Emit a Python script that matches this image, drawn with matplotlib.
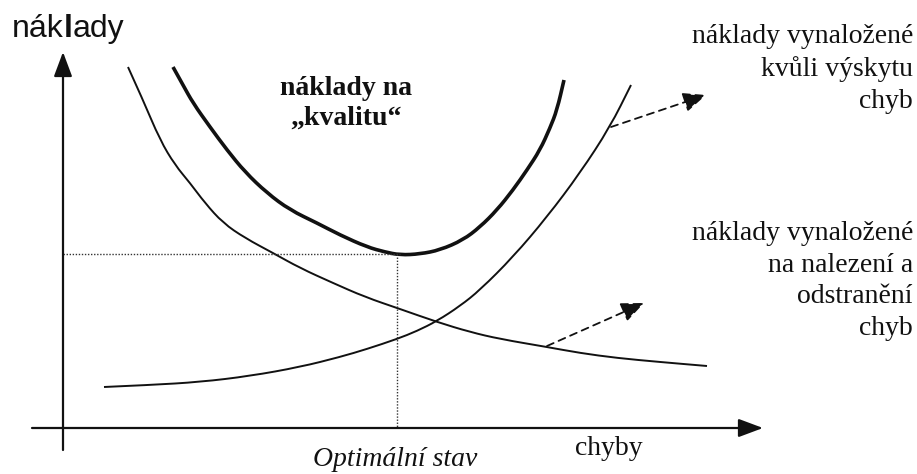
import matplotlib
matplotlib.use("Agg")
import matplotlib.pyplot as plt
from matplotlib.path import Path
from matplotlib.patches import PathPatch

# ---- data (chart units: x = chyby, y = náklady; origin at axis crossing) ----
fail_x = [41, 87, 137, 187, 237, 277, 304, 334, 354, 374, 397, 417, 450, 484, 517, 547, 568]
fail_y = [41, 43, 46, 52, 61, 71, 79, 89, 97, 107, 122, 138, 171, 211, 255, 301, 343]

find_x = [65, 80, 97, 112, 127, 142, 160, 182, 210, 237, 270, 302, 337, 374, 407, 437, 484, 517, 554, 597, 644]
find_y = [361, 328, 288, 263, 245, 225, 205, 190, 175, 160, 145, 131, 119, 106, 96, 89, 81, 75, 70, 66, 62]

qual_x = [110, 120, 130, 147, 164, 182, 204, 227, 254, 277, 304, 322, 337, 357, 377, 400, 417, 434, 450, 464, 477, 487, 494, 501]
qual_y = [361, 343, 325, 301, 278, 256, 235, 218, 205, 193, 181, 176, 173, 174, 178, 188, 201, 218, 238, 258, 278, 300, 318, 348]

opt_x, opt_y = 334, 174

label_y_axis = ["nák", "l", "ady"]
label_x_axis = "chyby"
label_opt = "Optimální stav"
label_quality = ["náklady na", "„kvalitu“"]
label_fail = ["náklady vynaložené", "kvůli výskytu", "chyb"]
label_find = ["náklady vynaložené", "na nalezení a", "odstranění", "chyb"]

# ---- figure ----
W, H = 917, 474
OX, OY = 63, 428  # pixel position of origin
fig = plt.figure(figsize=(W / 100, H / 100), dpi=100)
ax = fig.add_axes([0, 0, 1, 1])
ax.set_xlim(-OX, W - OX)
ax.set_ylim(-(H - OY), OY)
ax.axis("off")

def P(px, py):
    """pixel position -> chart coords (for layout only)"""
    return (px - OX, OY - py)

ink = "#111111"
serif = "Liberation Serif"
sans = "Liberation Sans"

def smooth_curve(xs, ys, lw):
    pts = list(zip(xs, ys))
    verts = [pts[0]]
    codes = [Path.MOVETO]
    for i in range(1, len(pts) - 1):
        mid = ((pts[i][0] + pts[i + 1][0]) / 2, (pts[i][1] + pts[i + 1][1]) / 2)
        verts += [pts[i], mid]
        codes += [Path.CURVE3, Path.CURVE3]
    verts.append(pts[-1])
    codes.append(Path.LINETO)
    ax.add_patch(PathPatch(Path(verts, codes), fill=False, edgecolor=ink, lw=lw,
                           capstyle="butt", joinstyle="round"))

# axes with arrows
ax.annotate("", xy=P(763, 428), xytext=P(32, 428),
            arrowprops=dict(arrowstyle="-|>,head_length=0.75,head_width=0.28",
                            color=ink, lw=1.6, mutation_scale=20, shrinkA=0, shrinkB=0))
ax.annotate("", xy=P(63, 52), xytext=P(63, 450),
            arrowprops=dict(arrowstyle="-|>,head_length=0.75,head_width=0.28",
                            color=ink, lw=1.6, mutation_scale=20, shrinkA=0, shrinkB=0))

# dotted optimum guides
ax.plot([0, opt_x + 3], [opt_y, opt_y], color="#333333", lw=1.0, ls=(0, (1, 1.2)))
ax.plot([opt_x, opt_x], [opt_y, 0], color="#333333", lw=1.0, ls=(0, (1, 1.2)))

# curves
smooth_curve(fail_x, fail_y, 1.4)
smooth_curve(find_x, find_y, 1.4)
smooth_curve(qual_x, qual_y, 2.6)

# dashed pointer arrows
for start, end in [((611, 127), (706, 95)), ((547, 346), (644, 303))]:
    ax.annotate("", xy=P(*end), xytext=P(*start),
                arrowprops=dict(arrowstyle="-|>,head_length=0.7,head_width=0.3",
                                color=ink, lw=1.3, ls=(0, (4, 3)),
                                mutation_scale=20, shrinkA=0, shrinkB=0))

# y-axis label with bold 'l'
t1 = ax.text(*P(12, 44), label_y_axis[0], fontsize=23, family=sans, color=ink,
             ha="left", va="bottom")
t2 = ax.annotate(label_y_axis[1], xy=(1, 0), xycoords=t1, fontsize=23, family=sans,
                 fontweight="bold", color=ink, ha="left", va="bottom")
t3 = ax.annotate(label_y_axis[2], xy=(1, 0), xycoords=t2, fontsize=23, family=sans,
                 color=ink, ha="left", va="bottom")

# quality label
for i, s in enumerate(label_quality):
    ax.text(*P(346, 95 + 30 * i), s, fontsize=20, family=serif, fontweight="bold",
            color=ink, ha="center", va="baseline")

# right labels
for i, s in enumerate(label_fail):
    ax.text(*P(913, 43 + 32.5 * i), s, fontsize=20, family=serif, color=ink,
            ha="right", va="baseline")
for i, s in enumerate(label_find):
    ax.text(*P(913, 240 + 31.7 * i), s, fontsize=20, family=serif, color=ink,
            ha="right", va="baseline")

# axis labels
ax.text(*P(575, 455), label_x_axis, fontsize=20, family=serif, color=ink,
        ha="left", va="baseline")
ax.text(*P(395, 466), label_opt, fontsize=20, family=serif, style="italic", color=ink,
        ha="center", va="baseline")

fig.savefig("out.png", dpi=100, facecolor="white")
